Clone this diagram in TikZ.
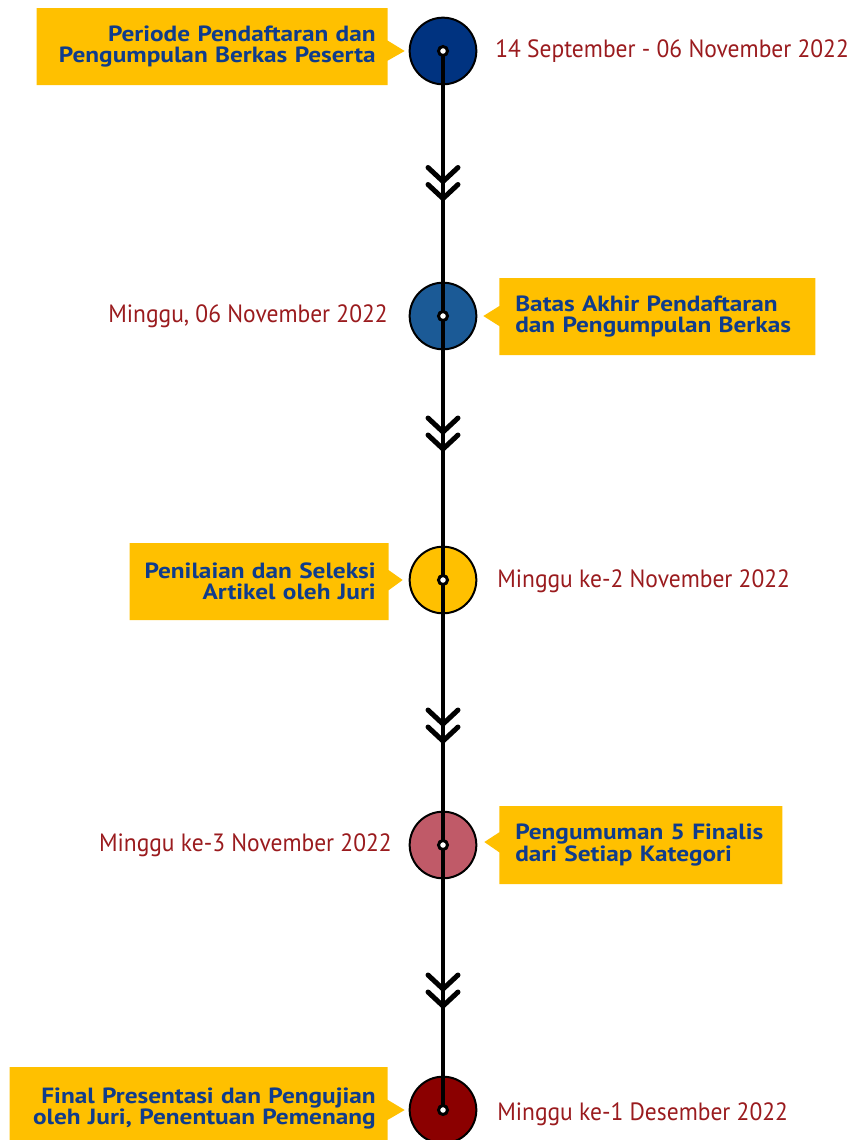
\documentclass[tikz,border=0pt]{standalone}
\usepackage{fontspec}
\setmainfont{PT Sans}
\newfontfamily\boxfont{PT Sans}[FakeStretch=1.15]
\newfontfamily\datefont{PT Sans}[FakeStretch=0.94]
\usetikzlibrary{calc,shapes.callouts}
\definecolor{boxyellow}{HTML}{FFC000}
\definecolor{txtblue}{HTML}{0F3C8C}
\definecolor{datered}{HTML}{9A1B1E}
\definecolor{dotA}{HTML}{003380}
\definecolor{dotB}{HTML}{1B5A96}
\definecolor{dotC}{HTML}{FFC000}
\definecolor{dotD}{HTML}{C05A68}
\definecolor{dotE}{HTML}{8B0000}

\begin{document}
\begin{tikzpicture}[x=0.75pt,y=-0.75pt,
	bubble/.style={rectangle callout,fill=boxyellow,text=txtblue,
		font=\boxfont\bfseries\fontsize{16.5}{16}\selectfont,
		inner xsep=9pt,inner ysep=0pt,minimum height=57.75pt,
		callout pointer width=15pt},
	stamp/.style={circle,draw=black,line width=1.5pt,minimum size=50pt,inner sep=0pt},
	ring/.style={circle,draw=black,fill=white,line width=2.25pt,minimum size=6.75pt,inner sep=0pt},
	chev/.style={line width=3.75pt,line cap=round,line join=round},
	when/.style={text=datered,font=\datefont\fontsize{18.75}{20}\selectfont,inner sep=0pt}]
	
	\clip (0,0) rectangle (849,1140);
	
	% The stations on the timeline
	\foreach \i/\col/\yy in {1/dotA/51, 2/dotB/316, 3/dotC/580, 4/dotD/845, 5/dotE/1110} {
		\node[stamp,fill=\col] (c\i) at (443,\yy) {};
	}
	\draw[line width=3pt] (c1.center) -- (c5.center);
	\foreach \i in {1,...,5} {
		\node[ring] (r\i) at (c\i) {};
	}
	
	% Double chevrons between the stations
	\foreach \yy in {183.5,434,726,991} {
		\draw[chev] (428,\yy-16) -- (443,\yy-2) -- (458,\yy-16);
		\draw[chev] (428,\yy+1) -- (443,\yy+15) -- (458,\yy+1);
	}
	
	% Event boxes
	\node[bubble,align=right,text width=245.25pt,anchor=east,
	callout absolute pointer={($(c1.west)+(-4,0)$)}] (b1) at (388,46.5)
	{Periode Pendaftaran dan\\Pengumpulan Berkas Peserta};
	\node[bubble,align=left,inner xsep=12pt,text width=213pt,anchor=west,
	callout absolute pointer={($(c2.east)+(6,0)$)}] (b2) at (499,316.5)
	{Batas Akhir Pendaftaran\\dan Pengumpulan Berkas};
	\node[bubble,align=right,inner xsep=9.75pt,text width=174.75pt,anchor=east,
	callout absolute pointer={($(c3.west)+(-6,0)$)}] (b3) at (389,581.5)
	{Penilaian dan Seleksi\\Artikel oleh Juri};
	\node[bubble,align=left,inner xsep=12pt,text width=188.25pt,anchor=west,
	minimum height=58.5pt,
	callout absolute pointer={($(c4.east)+(7,-3)$)}] (b4) at (499,845)
	{Pengumuman 5 Finalis\\dari Setiap Kategori};
	\node[bubble,align=right,text width=265.5pt,anchor=east,minimum height=62.25pt,
	callout absolute pointer={($(c5.west)+(-4,0)$)}] (b5) at (388,1108.5)
	{Final Presentasi dan Pengujian\\oleh Juri, Penentuan Pemenang};
	
	% Dates
	\node[when,anchor=base west] (d1) at (495,57) {14 September - 06 November 2022};
	\node[when,anchor=base east] (d2) at (388,322) {Minggu, 06 November 2022};
	\node[when,anchor=base west] (d3) at (497,587) {Minggu ke-2 November 2022};
	\node[when,anchor=base east] (d4) at (392,851) {Minggu ke-3 November 2022};
	\node[when,anchor=base west] (d5) at (497,1120) {Minggu ke-1 Desember 2022};
	
\end{tikzpicture}
\end{document}
